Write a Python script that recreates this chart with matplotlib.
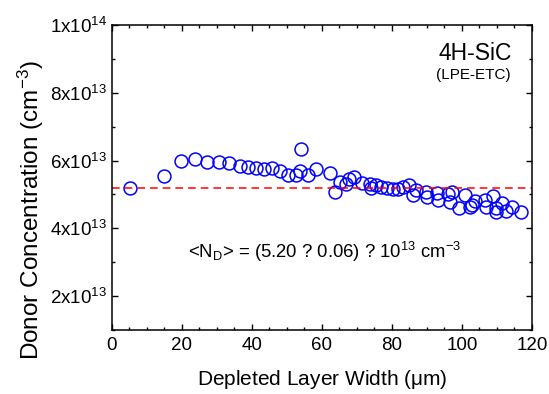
import matplotlib
matplotlib.use("Agg")
from matplotlib import pyplot as plt
from matplotlib.ticker import MultipleLocator

plt.rcParams['font.family'] = ['Liberation Sans', 'DejaVu Sans']
plt.rcParams['mathtext.default'] = 'regular'

# depleted layer width (um) and donor concentration (1e13 cm^-3)
width = [5.2, 14.9, 19.7, 23.7, 27.2, 30.5, 33.5, 36.6, 39.0, 41.1,
         43.4, 45.6, 48.0, 50.4, 52.6, 53.7, 54.0, 55.9, 58.4, 62.4,
         63.6, 65.1, 66.8, 67.8, 69.1, 71.4, 73.7, 73.9, 75.5, 77.0,
         78.6, 80.2, 81.6, 83.2, 85.0, 85.9, 86.8, 89.7, 90.0, 92.9,
         93.2, 96.1, 97.1, 96.5, 99.2, 101.0, 102.3, 102.9, 103.6, 106.5,
         106.9, 108.8, 109.7, 109.7, 111.3, 112.7, 114.3, 116.9]
conc = [5.19, 5.53, 5.99, 6.05, 5.97, 5.95, 5.92, 5.83, 5.80, 5.77,
        5.76, 5.77, 5.69, 5.58, 5.58, 5.70, 6.33, 5.58, 5.75, 5.62,
        5.07, 5.36, 5.30, 5.45, 5.50, 5.34, 5.31, 5.18, 5.27, 5.21,
        5.20, 5.17, 5.15, 5.22, 5.27, 4.99, 5.13, 5.08, 4.93, 5.04,
        4.84, 5.02, 5.07, 4.77, 4.60, 4.99, 4.63, 4.69, 4.80, 4.84,
        4.62, 4.94, 4.61, 4.47, 4.76, 4.51, 4.64, 4.49]
mean_nd = 5.20
yticks = [2, 4, 6, 8, 10]
ytick_labels = [r'2x10$^{13}$', r'4x10$^{13}$', r'6x10$^{13}$', r'8x10$^{13}$', r'1x10$^{14}$']

fig = plt.figure(figsize=(5.49, 3.94), dpi=100)
ax = fig.add_axes([0.204, 0.162, 0.765, 0.775])

ax.plot(width, conc, 'o', mfc='none', mec='#0000ff', ms=9.3, mew=1.1, ls='none')
ax.axhline(mean_nd, color='#ff0000', ls=(0, (5, 3.3)), lw=1.1)

ax.set_xlim(0, 120)
ax.set_ylim(1, 10)
ax.xaxis.set_major_locator(MultipleLocator(20))
ax.xaxis.set_minor_locator(MultipleLocator(5))
ax.set_yticks(yticks)
ax.set_yticklabels(ytick_labels)
ax.yaxis.set_minor_locator(MultipleLocator(1))
ax.tick_params(which='both', direction='in', top=True, right=True, labelsize=13.5)
ax.tick_params(which='major', length=4.5, width=1)
ax.tick_params(which='minor', length=2.5, width=1)
ax.tick_params(axis='x', pad=5)
for s in ax.spines.values():
    s.set_linewidth(1.1)

ax.set_xlabel(r'Depleted Layer Width ($\mu$m)', fontsize=15)
ax.set_ylabel(r'Donor Concentration (cm$^{-3}$)', fontsize=17.5)
ax.xaxis.set_label_coords(0.5, -0.125)
ax.yaxis.set_label_coords(-0.158, 0.392)

ax.text(0.952, 0.905, '4H-SiC', transform=ax.transAxes, ha='right', va='center', fontsize=16.5)
ax.text(0.948, 0.836, '(LPE-ETC)', transform=ax.transAxes, ha='right', va='center', fontsize=11)
ax.text(0.18, 0.255, r'<N$_D$> = (5.20 ? 0.06) ? 10$^{13}$ cm$^{-3}$', transform=ax.transAxes,
        ha='left', va='center', fontsize=13.3)

fig.savefig('out.png', dpi=100)
